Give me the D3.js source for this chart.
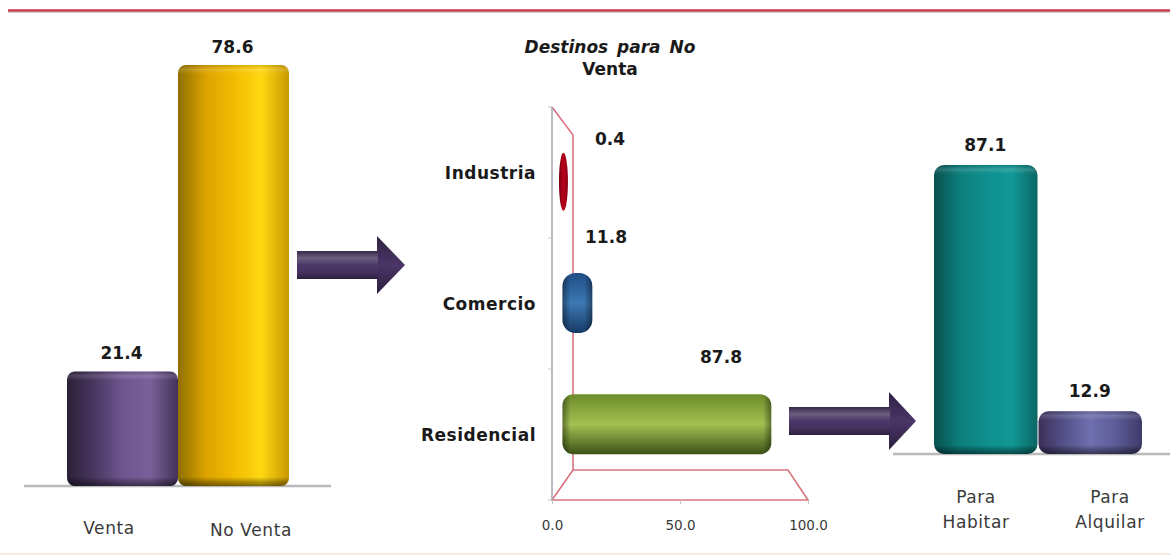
<!DOCTYPE html>
<html>
<head>
<meta charset="utf-8">
<script src="https://cdn.jsdelivr.net/npm/d3@7"></script>
<style>
html,body{margin:0;padding:0;background:#fff;overflow:hidden}
svg{display:block}
text{font-family:"DejaVu Sans",Verdana,sans-serif}
</style>
</head>
<body>
<svg id="chart" width="1170" height="555"></svg>
<script>
// Vivienda: venta / no venta, destinos para no venta, uso residencial
const ventaCategories = ["Venta", "No Venta"];
const ventaValues = [21.4, 78.6];
const destinoCategories = ["Industria", "Comercio", "Residencial"];
const destinoValues = [0.4, 11.8, 87.8];
const destinoTicks = [0, 50, 100];
const usoCategories = [["Para", "Habitar"], ["Para", "Alquilar"]];
const usoValues = [87.1, 12.9];
const destinoTitle = ["Destinos para No", "Venta"];

const ventaPalette = [
  ["#2c2038", "#4a3762", "#6f5690", "#7a6099", "#43325a"],
  ["#8f7000", "#dca300", "#f2bb00", "#ffd812", "#c99800"]
];
const destinoPalette = [
  ["#7a0010", "#b8001c", "#8a0014"],
  ["#1f4f86", "#3d78b4", "#173a66"],
  ["#6d8c2a", "#a3c052", "#3b5216"]
];
const usoPalette = [
  ["#08504e", "#0c7f7d", "#0e8f8d", "#119896", "#0a6664"],
  ["#3a2f58", "#55528a", "#6f6fae", "#5d5c98", "#3f3a68"]
];

const svg = d3.select("#chart");
const defs = svg.append("defs");
let gradientId = 0;

function gradient(colors, vertical) {
  const id = "g" + (gradientId++);
  const g = defs.append("linearGradient").attr("id", id)
    .attr("x1", 0).attr("y1", 0)
    .attr("x2", vertical ? 0 : 1).attr("y2", vertical ? 1 : 0);
  colors.forEach((c, i) => g.append("stop")
    .attr("offset", i / (colors.length - 1)).attr("stop-color", c));
  return `url(#${id})`;
}

// Shading along the long direction of a rounded bar: light top rim, dark foot
function rimGradient(length, cap, vertical) {
  const id = "g" + (gradientId++);
  const g = defs.append("linearGradient").attr("id", id)
    .attr("x1", 0).attr("y1", 0)
    .attr("x2", vertical ? 0 : 1).attr("y2", vertical ? 1 : 0);
  const f = Math.min(0.45, cap / length);
  const stops = vertical
    ? [[0, "#000", 0.12], [f * 0.5, "#fff", 0.14], [f, "#fff", 0],
       [1 - f, "#000", 0], [1 - f * 0.5, "#000", 0.28], [1, "#000", 0.5]]
    : [[0, "#000", 0.4], [f, "#000", 0], [1 - f, "#000", 0], [1, "#000", 0.4]];
  stops.forEach(([o, c, a]) => g.append("stop").attr("offset", o)
    .attr("stop-color", c).attr("stop-opacity", a));
  return `url(#${id})`;
}

function roundedBar(g, x, y, w, h, r, colors, vertical) {
  g.append("rect").attr("x", x).attr("y", y).attr("width", w).attr("height", h)
    .attr("rx", r).attr("ry", r).attr("fill", gradient(colors, !vertical));
  g.append("rect").attr("x", x).attr("y", y).attr("width", w).attr("height", h)
    .attr("rx", r).attr("ry", r)
    .attr("fill", rimGradient(vertical ? h : w, 9, vertical));
}

const valueLabel = (g, x, y, v) => g.append("text")
  .attr("x", x).attr("y", y).attr("text-anchor", "middle")
  .attr("font-size", 17).attr("font-weight", 700).attr("fill", "#1a1a1a")
  .text(d3.format(".1f")(v));

const plainLabel = (g, x, y, t) => g.append("text")
  .attr("x", x).attr("y", y).attr("text-anchor", "middle")
  .attr("font-size", 17).attr("letter-spacing", 0.6).attr("fill", "#3a3a3a").text(t);

// Block arrow: shaft with a pale sheen, darker head
function arrow(x0, x1, headX, cy, shaftHalf, headHalf) {
  const shaft = [[x0, cy - shaftHalf], [headX + 1, cy - shaftHalf],
    [headX + 1, cy + shaftHalf], [x0, cy + shaftHalf]];
  const head = [[headX, cy - headHalf], [x1, cy], [headX, cy + headHalf]];
  svg.append("path").attr("d", d3.line()(head) + "Z")
    .attr("fill", gradient(["#2e2040", "#4b3568", "#2b1f3e"], true));
  svg.append("path").attr("d", d3.line()(shaft) + "Z")
    .attr("fill", gradient(["#352848", "#6a5e80", "#4b3868", "#46325f", "#2c2040"], true));
}

/* Left panel: venta vs no venta */
{
  const y = d3.scaleLinear().domain([0, 78.6]).range([486, 65]);
  const x = d3.scaleBand().domain(ventaCategories).range([67, 289]).padding(0);
  const g = svg.append("g");
  g.append("line").attr("x1", 24).attr("x2", 331).attr("y1", 486).attr("y2", 486)
    .attr("stroke", "#b9b9b9").attr("stroke-width", 2.5);
  ventaCategories.forEach((c, i) => {
    roundedBar(g, x(c), y(ventaValues[i]), x.bandwidth(), y(0) - y(ventaValues[i]), 8,
      ventaPalette[i], true);
    valueLabel(g, x(c) + x.bandwidth() / 2 - 1, y(ventaValues[i]) - 12, ventaValues[i]);
  });
  plainLabel(g, 109, 534, ventaCategories[0]);
  plainLabel(g, 251, 536, ventaCategories[1]);
}

arrow(297, 405, 377, 265, 14, 29);

/* Middle panel: horizontal bars inside a 3D-looking frame */
{
  const g = svg.append("g");
  const front = { x0: 552, x1: 808, top: 107, bottom: 500 };
  const back = { x0: 573, x1: 788, top: 135, bottom: 470 };
  const axisX = d3.scaleLinear().domain([0, 100]).range([front.x0, front.x1]);
  const axisY = d3.scaleBand().domain(destinoCategories).range([front.top, front.bottom]);
  const barX = d3.scaleLinear().domain([0, 100]).range([562.5, 798]);
  const barY = d3.scaleBand().domain(destinoCategories).range([121, 485]);

  const frameLine = d3.line();
  g.append("path").attr("fill", "none").attr("stroke", "#d9737f").attr("stroke-width", 1.6)
    .attr("d", frameLine([[front.x0, front.top], [back.x0, back.top], [back.x0, back.bottom],
      [back.x1, back.bottom], [front.x1, front.bottom], [front.x0, front.bottom], [back.x0, back.bottom]]));
  g.append("line").attr("x1", front.x0).attr("x2", front.x0)
    .attr("y1", front.top).attr("y2", front.bottom)
    .attr("stroke", "#a9a9b8").attr("stroke-width", 1.6);

  // Value axis
  const xAxis = g.append("g").attr("transform", `translate(0,${front.bottom})`)
    .call(d3.axisBottom(axisX).tickValues(destinoTicks).tickSize(4).tickPadding(16)
      .tickFormat(d3.format(".1f")));
  xAxis.select(".domain").remove();
  xAxis.selectAll("line").attr("stroke", "#c4c4c4");
  xAxis.selectAll("text").attr("font-size", 13.5).attr("fill", "#3a3a3a")
    .attr("font-family", "'DejaVu Sans',sans-serif");

  // Category axis separators
  [front.top, ...destinoCategories.map(c => axisY(c) + axisY.bandwidth())].forEach(t => {
    g.append("line").attr("x1", front.x0 - 4).attr("x2", front.x0)
      .attr("y1", t).attr("y2", t).attr("stroke", "#c4c4c4");
  });
  destinoCategories.forEach(c => {
    g.append("text").attr("x", 536).attr("y", axisY(c) + axisY.bandwidth() / 2 + 6.5)
      .attr("text-anchor", "end").attr("font-size", 17).attr("font-weight", 700)
      .attr("letter-spacing", 0.5).attr("fill", "#1a1a1a").text(c);
  });

  destinoCategories.forEach((c, i) => {
    const v = destinoValues[i];
    const cy = barY(c) + barY.bandwidth() / 2;
    const h = 60;
    const w = barX(v) - barX(0) + 2;
    if (w < 9) {
      g.append("ellipse").attr("cx", barX(v)).attr("cy", cy).attr("rx", 4.5).attr("ry", 29)
        .attr("fill", gradient(destinoPalette[i], false));
    } else {
      const r = w < 40 ? 13 : 11;
      g.append("rect").attr("x", barX(0)).attr("y", cy - h / 2).attr("width", w).attr("height", h)
        .attr("rx", r).attr("ry", r)
        .attr("fill", gradient(destinoPalette[i], true));
      g.append("rect").attr("x", barX(0)).attr("y", cy - h / 2).attr("width", w).attr("height", h)
        .attr("rx", r).attr("ry", r)
        .attr("fill", rimGradient(w, 8, false));
    }
  });
  const labelPos = [[610, 145], [606, 243], [721, 363]];
  destinoValues.forEach((v, i) => valueLabel(g, labelPos[i][0], labelPos[i][1], v));

  destinoTitle.forEach((t, i) => {
    g.append("text").attr("x", 610).attr("y", 52.5 + i * 22.5).attr("text-anchor", "middle")
      .attr("font-size", 17).attr("font-weight", 700).attr("word-spacing", 3)
      .attr("font-style", i === 0 ? "italic" : "normal").attr("fill", "#1a1a1a").text(t);
  });
}

arrow(789, 916, 889, 421, 14, 29);

/* Right panel: uso de las residencias */
{
  const y = d3.scaleLinear().domain([0, 87.1]).range([454, 165]);
  const x = d3.scaleBand().domain(usoCategories.map(c => c.join(" "))).range([934, 1143]);
  const g = svg.append("g");
  g.append("line").attr("x1", 893).attr("x2", 1170).attr("y1", 454).attr("y2", 454)
    .attr("stroke", "#b9b9b9").attr("stroke-width", 2.5);
  usoCategories.forEach((c, i) => {
    const key = c.join(" ");
    roundedBar(g, x(key), y(usoValues[i]), x.bandwidth() - 1, y(0) - y(usoValues[i]), 10,
      usoPalette[i], true);
    valueLabel(g, x(key) + x.bandwidth() / 2 - 1, y(usoValues[i]) - 14, usoValues[i]);
    c.forEach((t, j) => plainLabel(g, i ? 1110 : 976, 503 + j * 25, t));
  });
}

// Rule across the head of the slide and faint edge at its foot
svg.append("line").attr("x1", 8).attr("x2", 1170).attr("y1", 10.5).attr("y2", 10.5)
  .attr("stroke", "#c63a4c").attr("stroke-width", 2.4);
svg.append("line").attr("x1", 8).attr("x2", 1170).attr("y1", 12.5).attr("y2", 12.5)
  .attr("stroke", "#cfcfcf").attr("stroke-width", 1);
svg.append("line").attr("x1", 0).attr("x2", 1170).attr("y1", 554).attr("y2", 554)
  .attr("stroke", "#f4ebe4").attr("stroke-width", 2);
</script>
</body>
</html>
